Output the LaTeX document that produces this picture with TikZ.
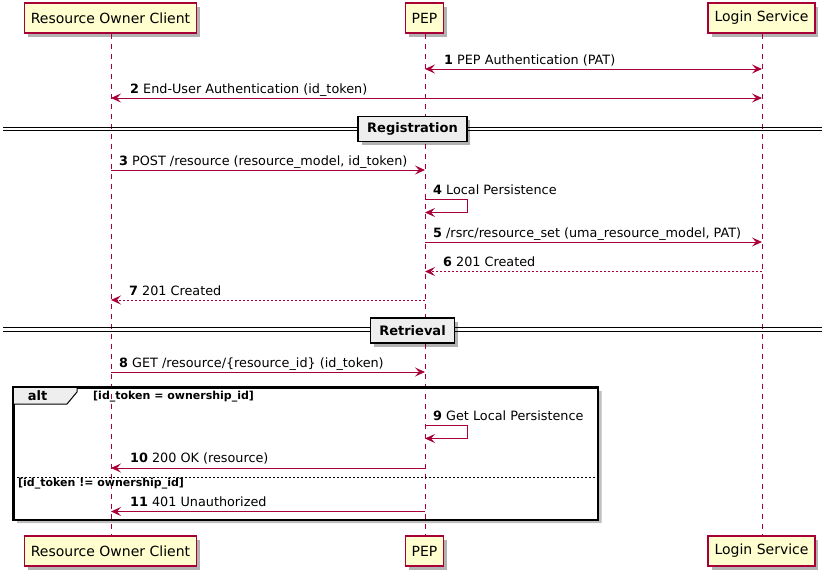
\documentclass[tikz,border=0pt]{standalone}
\usepackage{fontspec}
\setmainfont{DejaVu Sans}
\usetikzlibrary{arrows.meta,shadows}
\definecolor{pu}{HTML}{A80036}
\definecolor{pfill}{HTML}{FEFECE}
\definecolor{gfill}{HTML}{EEEEEE}
\tikzset{
  shd/.style={drop shadow={shadow xshift=3.5pt, shadow yshift=-3.5pt, opacity=0.3, fill=black}},
  part/.style={draw=pu, fill=pfill, line width=1.2pt, minimum height=30pt, inner xsep=6.5pt,
    font=\fontsize{14}{16}\selectfont, shd},
  lifeline/.style={draw=pu, line width=0.9pt, dash pattern=on 5pt off 5pt},
  tipa/.tip={Stealth[length=10pt,width=9pt,inset=4pt]},
  msg/.style={draw=pu, line width=1pt, -tipa},
  bimsg/.style={draw=pu, line width=1pt, tipa-tipa},
  ret/.style={msg, dash pattern=on 2pt off 2pt},
  lbl/.style={anchor=base west, inner sep=0pt, font=\fontsize{12.8}{15}\selectfont},
  divbox/.style={draw=black, fill=gfill, line width=1.5pt, minimum height=25pt, inner xsep=9pt,
    font=\bfseries\fontsize{13}{15}\selectfont, shd},
  divline/.style={draw=black, line width=1pt},
  altbox/.style={draw=black, line width=1.6pt, anchor=north west, inner sep=0pt},
  altshadow/.style={fill=black, opacity=0.25, draw=none},
  cond/.style={anchor=base west, inner sep=0pt, font=\bfseries\fontsize{11}{13}\selectfont},
  altlbl/.style={anchor=base, inner sep=0pt, font=\bfseries\fontsize{13}{15}\selectfont},
}
\begin{document}
\begin{tikzpicture}[x=1pt,y=-1pt]
\useasboundingbox (0,0) rectangle (833,576);
% participants
\node[part] (roc) at (110.5,18) {Resource Owner Client};
\node[part] (pep) at (424.5,18) {PEP};
\node[part] (ls)  at (761.5,18) {Login Service};
\node[part] (rocb) at (110.5,551) {Resource Owner Client};
\node[part] (pepb) at (424.5,551) {PEP};
\node[part] (lsb)  at (761.5,551) {Login Service};
% lifelines
\draw[lifeline] ([xshift=0.5pt]roc.south) -- ([xshift=0.5pt]rocb.north);
\draw[lifeline] ([xshift=0.5pt]pep.south) -- ([xshift=0.5pt]pepb.north);
\draw[lifeline] ([xshift=0.5pt]ls.south) -- ([xshift=0.5pt]lsb.north);
\coordinate (xr) at (111,0);
\coordinate (xp) at (425,0);
\coordinate (xl) at (762,0);
% y levels
\coordinate (y1) at (0,69);
\coordinate (y2) at (0,98);
\coordinate (y3) at (0,170);
\coordinate (y4a) at (0,199.5);
\coordinate (y4b) at (0,212.5);
\coordinate (y5) at (0,242);
\coordinate (y6) at (0,271.5);
\coordinate (y7) at (0,300);
\coordinate (y8) at (0,372);
\coordinate (y9a) at (0,425.5);
\coordinate (y9b) at (0,438.5);
\coordinate (y10) at (0,468);
\coordinate (y11) at (0,511.5);
% messages
\draw[bimsg] (xp |- y1) -- (xl |- y1);
\node[lbl] (l1) at (444,64) {\textbf{1} PEP Authentication (PAT)};
\draw[bimsg] (xr |- y2) -- (xl |- y2);
\node[lbl] (l2) at (130,93) {\textbf{2} End-User Authentication (id\_token)};
% Registration divider
\coordinate (d1l) at (3,129);
\coordinate (d1r) at (822,129);
\draw[divline] ([yshift=-1.6pt]d1l) -- ([yshift=-1.6pt]d1r);
\draw[divline] ([yshift=1.6pt]d1l) -- ([yshift=1.6pt]d1r);
\node[divbox] (reg) at (412.5,129) {Registration};
\draw[msg] (xr |- y3) -- (xp |- y3);
\node[lbl] (l3) at (119,165) {\textbf{3} POST /resource (resource\_model, id\_token)};
\draw[msg] (xp |- y4a) -- ++(42,0) -- ++(0,13) -- (xp |- y4b);
\node[lbl] (l4) at (433,194.5) {\textbf{4} Local Persistence};
\draw[msg] (xp |- y5) -- (xl |- y5);
\node[lbl] (l5) at (433,237) {\textbf{5} /rsrc/resource\_set (uma\_resource\_model, PAT)};
\draw[ret] (xl |- y6) -- (xp |- y6);
\node[lbl] (l6) at (443,266.5) {\textbf{6} 201 Created};
\draw[ret] (xp |- y7) -- (xr |- y7);
\node[lbl] (l7) at (129,295) {\textbf{7} 201 Created};
% Retrieval divider
\coordinate (d2l) at (3,329.5);
\coordinate (d2r) at (822,329.5);
\draw[divline] ([yshift=-1.6pt]d2l) -- ([yshift=-1.6pt]d2r);
\draw[divline] ([yshift=1.6pt]d2l) -- ([yshift=1.6pt]d2r);
\node[divbox] (ret) at (412.5,330.5) {Retrieval};
\draw[msg] (xr |- y8) -- (xp |- y8);
\node[lbl] (l8) at (119,367) {\textbf{8} GET /resource/\{resource\_id\} (id\_token)};
% alt fragment
\fill[altshadow] (597.8,391) -- (601.5,391) -- (601.5,523) -- (17,523) -- (17,519.8) -- (597.8,519.8) -- cycle;
\node[altbox, minimum width=584pt, minimum height=132pt] (alt) at (13,387) {};
\draw[draw=black, line width=1pt, fill=gfill] (alt.north west) -- ++(64,0) -- ++(0,5) -- ++(-10,12) -- ([yshift=-17pt]alt.north west) -- cycle;
\draw[draw=black, line width=1.6pt] (alt.north west) rectangle (alt.south east);
\node[altlbl] (altt) at (37.5,400.5) {alt};
\node[cond] (c1) at (93,399) {[id\_token = ownership\_id]};
\draw[msg] (xp |- y9a) -- ++(42,0) -- ++(0,13) -- (xp |- y9b);
\node[lbl] (l9) at (433,420.5) {\textbf{9} Get Local Persistence};
\draw[msg] (xp |- y10) -- (xr |- y10);
\node[lbl] (l10) at (130,462.5) {\textbf{10} 200 OK (resource)};
\draw[black, line width=0.8pt, dash pattern=on 2pt off 2pt] (alt.west |- 0,477) -- (alt.east |- 0,477);
\node[cond] (c2) at (18,486) {[id\_token != ownership\_id]};
\draw[msg] (xp |- y11) -- (xr |- y11);
\node[lbl] (l11) at (130,506) {\textbf{11} 401 Unauthorized};
\end{tikzpicture}
\end{document}
